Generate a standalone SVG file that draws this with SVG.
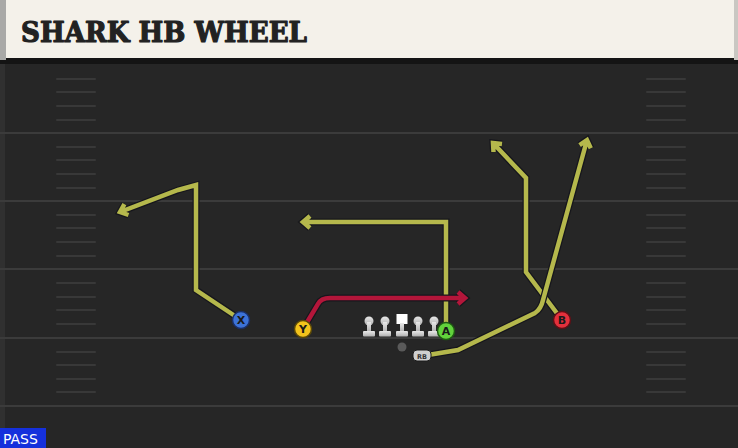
<svg xmlns="http://www.w3.org/2000/svg" width="738" height="448" viewBox="0 0 738 448">
<defs>
<style>
.yard{stroke:#3b3b3b;stroke-width:2}
.hash{stroke:#383838;stroke-width:2;stroke-linecap:round}
.ro{fill:none;stroke:#16161c;stroke-width:7;stroke-linejoin:miter;stroke-linecap:butt}
.ry{fill:none;stroke:#b5b84c;stroke-width:4.5;stroke-linejoin:miter;stroke-linecap:butt}
.rr{fill:none;stroke:#b3163a;stroke-width:4.5;stroke-linejoin:miter;stroke-linecap:butt}
.lbl{font-family:"DejaVu Sans","Liberation Sans",sans-serif;font-weight:bold;font-size:11px;fill:#1a1a1a;text-anchor:middle}
</style>
<linearGradient id="olg" x1="0" y1="0" x2="0" y2="1">
<stop offset="0" stop-color="#e8e8e8"/>
<stop offset="1" stop-color="#b0b0b0"/>
</linearGradient>
</defs>
<rect x="0" y="0" width="738" height="448" fill="#262626"/>
<rect x="0" y="60" width="5" height="388" fill="#303030"/>
<g id="field">
<line class="yard" x1="0" y1="133" x2="738" y2="133"/>
<line class="yard" x1="0" y1="201" x2="738" y2="201"/>
<line class="yard" x1="0" y1="269" x2="738" y2="269"/>
<line class="yard" x1="0" y1="338" x2="738" y2="338"/>
<line class="yard" x1="0" y1="406" x2="738" y2="406"/>
<g id="hashes-left">
<line class="hash" x1="57" y1="79" x2="95" y2="79"/><line class="hash" x1="57" y1="92" x2="95" y2="92"/><line class="hash" x1="57" y1="106" x2="95" y2="106"/><line class="hash" x1="57" y1="120" x2="95" y2="120"/>
<line class="hash" x1="57" y1="147" x2="95" y2="147"/><line class="hash" x1="57" y1="160" x2="95" y2="160"/><line class="hash" x1="57" y1="174" x2="95" y2="174"/><line class="hash" x1="57" y1="188" x2="95" y2="188"/>
<line class="hash" x1="57" y1="215" x2="95" y2="215"/><line class="hash" x1="57" y1="228" x2="95" y2="228"/><line class="hash" x1="57" y1="242" x2="95" y2="242"/><line class="hash" x1="57" y1="256" x2="95" y2="256"/>
<line class="hash" x1="57" y1="283" x2="95" y2="283"/><line class="hash" x1="57" y1="297" x2="95" y2="297"/><line class="hash" x1="57" y1="310" x2="95" y2="310"/><line class="hash" x1="57" y1="324" x2="95" y2="324"/>
<line class="hash" x1="57" y1="352" x2="95" y2="352"/><line class="hash" x1="57" y1="365" x2="95" y2="365"/><line class="hash" x1="57" y1="379" x2="95" y2="379"/><line class="hash" x1="57" y1="392" x2="95" y2="392"/>
</g>
<g id="hashes-right">
<line class="hash" x1="647" y1="79" x2="685" y2="79"/><line class="hash" x1="647" y1="92" x2="685" y2="92"/><line class="hash" x1="647" y1="106" x2="685" y2="106"/><line class="hash" x1="647" y1="120" x2="685" y2="120"/>
<line class="hash" x1="647" y1="147" x2="685" y2="147"/><line class="hash" x1="647" y1="160" x2="685" y2="160"/><line class="hash" x1="647" y1="174" x2="685" y2="174"/><line class="hash" x1="647" y1="188" x2="685" y2="188"/>
<line class="hash" x1="647" y1="215" x2="685" y2="215"/><line class="hash" x1="647" y1="228" x2="685" y2="228"/><line class="hash" x1="647" y1="242" x2="685" y2="242"/><line class="hash" x1="647" y1="256" x2="685" y2="256"/>
<line class="hash" x1="647" y1="283" x2="685" y2="283"/><line class="hash" x1="647" y1="297" x2="685" y2="297"/><line class="hash" x1="647" y1="310" x2="685" y2="310"/><line class="hash" x1="647" y1="324" x2="685" y2="324"/>
<line class="hash" x1="647" y1="352" x2="685" y2="352"/><line class="hash" x1="647" y1="365" x2="685" y2="365"/><line class="hash" x1="647" y1="379" x2="685" y2="379"/><line class="hash" x1="647" y1="392" x2="685" y2="392"/>
</g>
</g>
<g id="header">
<rect x="0" y="0" width="738" height="64" fill="#141414"/>
<rect x="0" y="0" width="6" height="60" fill="#a9a9a7"/>
<rect x="6" y="0" width="728" height="58" fill="#f4f1ea"/>
<rect x="734" y="0" width="4" height="60" fill="#c9c7c2"/>
<text x="21" y="42" font-family="'DejaVu Serif','Liberation Serif',serif" font-weight="bold" font-size="28" fill="#222222" stroke="#222222" stroke-width="1.2" stroke-linejoin="round" textLength="286" lengthAdjust="spacingAndGlyphs">SHARK HB WHEEL</text>
</g>
<g id="routes">
<path class="ro" d="M241 320 L196 290 L196 185 L178 190 L120 212 M128.5 215 L120 212 L124.4 204.1"/>
<path class="ry" d="M241 320 L196 290 L196 185 L178 190 L120 212 M128.5 215 L120 212 L124.4 204.1"/>
<path class="ro" d="M446 331 L446 222 L303 222 M310 216 L303 222 L310 228"/>
<path class="ry" d="M446 331 L446 222 L303 222 M310 216 L303 222 L310 228"/>
<path class="ro" d="M562 320 L526 272 L526 178 L493 143 M493.5 152 L493 143 L502 144"/>
<path class="ry" d="M562 320 L526 272 L526 178 L493 143 M493.5 152 L493 143 L502 144"/>
<path class="ro" d="M428 355 L458 350 L535 313 Q541 309 543 300 L587 140 M579.6 145.1 L587 140 L590.8 148.2"/>
<path class="ry" d="M428 355 L458 350 L535 313 Q541 309 543 300 L587 140 M579.6 145.1 L587 140 L590.8 148.2"/>
<path class="ro" d="M303 329 L318 304 Q321 298 330 298 L465 298 M458 292 L465 298 L458 304"/>
<path class="rr" d="M303 329 L318 304 Q321 298 330 298 L465 298 M458 292 L465 298 L458 304"/>
</g>
<g id="ol-1"><circle cx="369" cy="321" r="4.5" fill="url(#olg)"/><rect x="367" y="322" width="4" height="10" fill="url(#olg)"/><rect x="363" y="331" width="12" height="5.5" rx="1" fill="url(#olg)"/></g>
<g id="ol-2"><circle cx="385" cy="321" r="4.5" fill="url(#olg)"/><rect x="383" y="322" width="4" height="10" fill="url(#olg)"/><rect x="379" y="331" width="12" height="5.5" rx="1" fill="url(#olg)"/></g>
<g id="center"><rect x="396.5" y="314" width="11" height="10" fill="#ffffff"/><rect x="400" y="323" width="4" height="9" fill="url(#olg)"/><rect x="396" y="331" width="12" height="5.5" rx="1" fill="url(#olg)"/></g>
<g id="ol-4"><circle cx="418" cy="321" r="4.5" fill="url(#olg)"/><rect x="416" y="322" width="4" height="10" fill="url(#olg)"/><rect x="412" y="331" width="12" height="5.5" rx="1" fill="url(#olg)"/></g>
<g id="ol-5"><circle cx="434" cy="321" r="4.5" fill="url(#olg)"/><rect x="432" y="322" width="4" height="10" fill="url(#olg)"/><rect x="428" y="331" width="12" height="5.5" rx="1" fill="url(#olg)"/></g>
<g id="qb"><circle cx="402" cy="347" r="4.5" fill="#5a5a5a"/></g>
<g id="rb"><rect x="413" y="350" width="18" height="11" rx="4" fill="#cfcfcf" stroke="#1a1a1a" stroke-width="1"/><text x="422" y="358.5" font-family="'DejaVu Sans','Liberation Sans',sans-serif" font-weight="bold" font-size="6.5" fill="#333" text-anchor="middle">RB</text></g>
<g id="X"><circle cx="241" cy="320" r="8.5" fill="#3c72d8" stroke="#1b2f66" stroke-width="1.5"/><text class="lbl" x="241" y="324">X</text></g>
<g id="Y"><circle cx="303" cy="329" r="8.5" fill="#f3c31c" stroke="#5a4808" stroke-width="1.5"/><text class="lbl" x="303" y="333">Y</text></g>
<g id="A"><circle cx="446" cy="331" r="8.5" fill="#62d23c" stroke="#1e5a12" stroke-width="1.5"/><text class="lbl" x="446" y="335">A</text></g>
<g id="B"><circle cx="562" cy="320" r="8.5" fill="#e3303c" stroke="#5e1016" stroke-width="1.5"/><text class="lbl" x="562" y="324">B</text></g>
<g id="pass"><rect x="0" y="428" width="46" height="20" fill="#1530dc"/><text x="3" y="444" font-family="'DejaVu Sans','Liberation Sans',sans-serif" font-size="14" fill="#ffffff">PASS</text></g>
</svg>
